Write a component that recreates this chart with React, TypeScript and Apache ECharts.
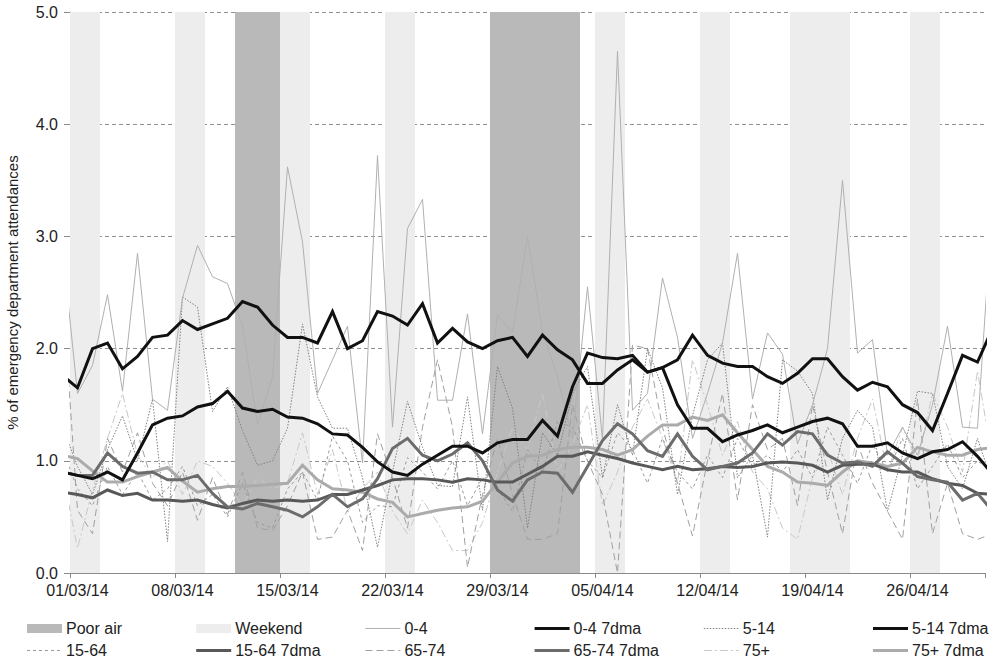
import React, { useEffect, useRef } from 'react';
import * as echarts from 'echarts';

// Day labels (01/03/14 .. 30/04/14); each day occupies one slot on the x axis
const pad = (n: number) => (n < 10 ? '0' + n : '' + n);
const dayLabels: string[] = [
  ...Array.from({ length: 31 }, (_, i) => `${pad(i + 1)}/03/14`),
  ...Array.from({ length: 30 }, (_, i) => `${pad(i + 1)}/04/14`),
];

// Series values: first entry = 28/02/14, last entry = 01/05/14 (both clipped by the plot edges)
const age0_4 = [2.9, 1.6, 1.85, 2.48, 1.62, 2.85, 1.55, 1.45, 2.45, 2.92, 2.64, 2.58, 2.2, 1.32, 1.75, 3.62, 2.95, 1.6, 1.9, 2.2, 0.98, 3.72, 1.3, 3.07, 3.33, 1.54, 1.54, 2.31, 1.24, 2.3, 2.14, 3.0, 2.15, 1.75, 1.2, 2.55, 1.19, 4.65, 1.45, 1.6, 2.63, 2.1, 1.2, 1.6, 2.05, 2.85, 1.55, 2.14, 1.95, 1.15, 1.5, 2.0, 3.5, 1.96, 2.08, 1.05, 1.3, 1.05, 1.5, 2.2, 1.3, 1.29, 3.3];
const age5_14 = [1.3, 0.95, 0.7, 1.1, 1.4, 1.0, 1.55, 0.28, 2.46, 2.37, 1.44, 1.66, 1.27, 0.96, 1.0, 1.29, 2.22, 1.57, 1.29, 1.29, 0.85, 0.23, 0.9, 1.53, 1.12, 0.78, 0.77, 1.57, 0.56, 1.84, 1.47, 0.4, 1.25, 1.05, 1.6, 1.84, 0.85, 1.5, 1.05, 2.0, 1.65, 0.7, 1.4, 1.9, 2.05, 0.85, 1.05, 0.32, 1.9, 1.8, 1.6, 0.65, 1.2, 1.45, 1.3, 0.55, 1.05, 1.62, 1.6, 0.95, 0.75, 1.2, 0.8];
const age15_64 = [1.1, 0.75, 0.6, 0.95, 0.7, 0.9, 0.65, 0.75, 0.95, 0.6, 0.7, 0.5, 0.8, 0.45, 0.4, 0.75, 0.9, 0.65, 1.22, 1.0, 0.45, 0.6, 0.59, 1.03, 0.9, 0.75, 1.0, 0.6, 0.85, 0.75, 0.55, 1.1, 0.9, 1.35, 1.3, 1.0, 0.85, 1.25, 1.1, 0.8, 1.2, 0.9, 0.75, 1.05, 0.85, 1.2, 0.95, 1.05, 0.9, 1.1, 0.85, 1.3, 1.05, 0.8, 1.15, 0.9, 1.2, 0.75, 0.95, 1.15, 0.85, 1.0, 0.9];
const age65_74 = [2.5, 0.56, 0.35, 1.2, 0.9, 1.25, 0.8, 0.6, 0.9, 0.47, 0.85, 0.52, 0.9, 0.4, 0.38, 0.6, 0.9, 0.3, 0.32, 0.56, 0.2, 1.24, 0.85, 0.4, 1.3, 1.9, 1.3, 0.05, 0.7, 1.2, 0.7, 0.3, 0.3, 0.35, 1.5, 1.0, 0.7, 0.0, 2.03, 2.0, 1.3, 0.8, 0.33, 1.0, 1.6, 0.65, 1.5, 1.1, 1.2, 0.6, 1.5, 0.9, 0.35, 1.15, 0.8, 0.55, 0.3, 1.55, 0.35, 0.8, 0.35, 0.3, 0.35];
const age75p = [0.9, 0.22, 0.74, 1.2, 1.6, 1.05, 0.85, 1.0, 0.7, 1.0, 0.95, 0.8, 0.6, 0.85, 0.75, 0.8, 1.25, 0.7, 1.1, 0.55, 0.75, 0.9, 0.55, 0.35, 0.65, 0.45, 0.2, 0.2, 0.45, 0.9, 1.3, 1.1, 1.6, 0.9, 1.15, 1.5, 0.6, 0.9, 1.3, 1.55, 1.2, 0.8, 1.9, 1.5, 1.05, 1.35, 0.9, 0.75, 0.4, 0.3, 0.85, 1.1, 0.7, 1.2, 1.55, 0.9, 1.3, 1.0, 1.6, 1.3, 0.9, 1.8, 1.0];
const dma0_4 = [1.76, 1.65, 2.0, 2.05, 1.82, 1.93, 2.1, 2.12, 2.25, 2.17, 2.22, 2.27, 2.42, 2.37, 2.21, 2.1, 2.1, 2.05, 2.33, 2.0, 2.07, 2.33, 2.29, 2.21, 2.4, 2.05, 2.18, 2.06, 2.0, 2.07, 2.1, 1.93, 2.12, 1.99, 1.9, 1.69, 1.69, 1.81, 1.9, 1.79, 1.83, 1.9, 2.12, 1.94, 1.87, 1.84, 1.84, 1.75, 1.69, 1.78, 1.91, 1.91, 1.75, 1.63, 1.7, 1.66, 1.5, 1.43, 1.27, 1.6, 1.94, 1.88, 2.18];
const dma5_14 = [0.9, 0.87, 0.84, 0.9, 0.83, 1.07, 1.32, 1.38, 1.4, 1.48, 1.51, 1.62, 1.47, 1.44, 1.46, 1.39, 1.38, 1.33, 1.24, 1.23, 1.12, 0.99, 0.9, 0.87, 0.97, 1.05, 1.13, 1.13, 1.07, 1.16, 1.19, 1.19, 1.36, 1.22, 1.66, 1.96, 1.92, 1.91, 1.94, 1.79, 1.83, 1.5, 1.29, 1.29, 1.17, 1.23, 1.27, 1.32, 1.25, 1.3, 1.35, 1.38, 1.33, 1.13, 1.13, 1.16, 1.07, 1.02, 1.08, 1.1, 1.17, 1.04, 0.88];
const dma15_64 = [0.72, 0.7, 0.67, 0.74, 0.69, 0.71, 0.65, 0.65, 0.64, 0.65, 0.61, 0.58, 0.62, 0.65, 0.64, 0.65, 0.64, 0.65, 0.7, 0.7, 0.74, 0.78, 0.83, 0.84, 0.84, 0.83, 0.81, 0.84, 0.83, 0.81, 0.81, 0.88, 0.95, 1.04, 1.04, 1.08, 1.05, 1.02, 0.98, 0.95, 0.92, 0.95, 0.92, 0.93, 0.95, 0.94, 0.95, 0.98, 0.99, 0.98, 0.96, 0.9, 0.96, 0.97, 0.97, 0.92, 0.9, 0.9, 0.84, 0.8, 0.78, 0.71, 0.7];
const dma65_74 = [0.9, 0.87, 0.87, 1.07, 0.95, 0.89, 0.9, 0.83, 0.83, 0.87, 0.71, 0.59, 0.57, 0.62, 0.59, 0.56, 0.5, 0.59, 0.7, 0.59, 0.66, 0.84, 1.11, 1.2, 1.05, 1.0, 1.06, 1.16, 1.0, 0.74, 0.64, 0.83, 0.9, 0.89, 0.72, 0.95, 1.18, 1.33, 1.24, 1.09, 1.04, 1.24, 1.04, 0.92, 0.95, 0.98, 1.07, 1.24, 1.14, 1.26, 1.24, 1.05, 0.98, 0.99, 0.95, 1.08, 0.98, 0.86, 0.83, 0.81, 0.65, 0.71, 0.55];
const dma75p = [1.05, 1.02, 0.91, 0.81, 0.81, 0.86, 0.9, 0.94, 0.82, 0.72, 0.75, 0.77, 0.77, 0.78, 0.79, 0.8, 0.96, 0.83, 0.75, 0.74, 0.72, 0.66, 0.63, 0.5, 0.53, 0.56, 0.58, 0.59, 0.64, 0.81, 0.98, 1.04, 1.05, 1.1, 1.12, 1.12, 1.1, 1.05, 1.1, 1.22, 1.32, 1.32, 1.39, 1.36, 1.41, 1.25, 1.1, 0.95, 0.9, 0.81, 0.8, 0.78, 0.9, 1.0, 0.98, 0.95, 0.98, 1.12, 1.08, 1.05, 1.05, 1.1, 1.12];

// Shaded periods, as [first day index, day index after last day]
const weekendRanges = [[0, 2], [7, 9], [14, 16], [21, 23], [28, 30], [35, 37], [42, 44], [48, 52], [56, 58]];
const poorAirRanges = [[11, 14], [28, 34]];

const yTicks = [0, 1, 2, 3, 4, 5];

const FONT = '"Liberation Sans", Arial, sans-serif';
const POOR = '#b9b9b9';
const WEEKEND = '#ededed';

type Def = { name: string; data: number[]; color: string; width: number; dash: number[] | null };
const thinDefs: Def[] = [
  { name: '75+', data: age75p, color: '#c8c8c8', width: 1, dash: [8, 3, 2, 3] },
  { name: '65-74', data: age65_74, color: '#a0a0a0', width: 1, dash: [7, 4] },
  { name: '15-64', data: age15_64, color: '#9a9a9a', width: 1, dash: [3, 3] },
  { name: '5-14', data: age5_14, color: '#808080', width: 1, dash: [1.5, 1.5] },
  { name: '0-4', data: age0_4, color: '#b0b0b0', width: 1, dash: null },
];
const thickDefs: Def[] = [
  { name: '75+ 7dma', data: dma75p, color: '#ababab', width: 3, dash: null },
  { name: '15-64 7dma', data: dma15_64, color: '#585858', width: 3, dash: null },
  { name: '65-74 7dma', data: dma65_74, color: '#6c6c6c', width: 3, dash: null },
  { name: '5-14 7dma', data: dma5_14, color: '#111111', width: 3, dash: null },
  { name: '0-4 7dma', data: dma0_4, color: '#111111', width: 3, dash: null },
];
const defByName: Record<string, Def> = {};
[...thinDefs, ...thickDefs].forEach((d) => (defByName[d.name] = d));

const legendOrder = [
  'Poor air', 'Weekend', '0-4', '0-4 7dma', '5-14', '5-14 7dma',
  '15-64', '15-64 7dma', '65-74', '65-74 7dma', '75+', '75+ 7dma',
];

function buildLegend() {
  const els: any[] = [];
  legendOrder.forEach((name, i) => {
    const col = i % 6;
    const row = Math.floor(i / 6);
    const x0 = 27 + col * 169.2;
    const y = row === 0 ? 628.5 : 650.5;
    if (name === 'Poor air' || name === 'Weekend') {
      els.push({
        type: 'rect',
        shape: { x: x0, y: y - 4.5, width: 35, height: 9 },
        style: { fill: name === 'Poor air' ? POOR : WEEKEND },
      });
    } else {
      const d = defByName[name];
      els.push({
        type: 'line',
        shape: { x1: x0, y1: y, x2: x0 + 35, y2: y },
        style: { stroke: d.color, lineWidth: d.width, lineDash: d.dash || undefined },
      });
    }
    els.push({
      type: 'text',
      x: x0 + 39,
      y,
      style: { text: name, fontSize: 16, fontFamily: FONT, fill: '#222', verticalAlign: 'middle', align: 'left' },
    });
  });
  return els;
}

function bandSeries(ranges: number[][], fill: string, z: number) {
  return {
    type: 'custom',
    xAxisIndex: 0,
    yAxisIndex: 0,
    silent: true,
    z,
    data: ranges,
    encode: { x: [0, 1] },
    renderItem: (_p: any, api: any) => {
      const a = api.coord([api.value(0), yTicks[yTicks.length - 1]]);
      const b = api.coord([api.value(1), yTicks[0]]);
      return {
        type: 'rect',
        shape: { x: a[0], y: a[1], width: b[0] - a[0], height: b[1] - a[1] },
        style: { fill },
      };
    },
  };
}

function lineSeries(d: Def, z: number) {
  return {
    type: 'line',
    name: d.name,
    xAxisIndex: 0,
    yAxisIndex: 0,
    z,
    symbol: 'none',
    clip: true,
    data: d.data.map((v, i) => [i - 0.5, v]),
    lineStyle: { color: d.color, width: d.width, type: d.dash || 'solid', cap: 'butt', join: 'miter' },
    itemStyle: { color: d.color },
  };
}

export default function App() {
  const ref = useRef<HTMLDivElement>(null);
  useEffect(() => {
    if (!ref.current) return;
    const chart = echarts.init(ref.current, undefined, { renderer: 'svg' });
    chart.setOption({
      animation: false,
      backgroundColor: '#ffffff',
      textStyle: { fontFamily: FONT },
      grid: { left: 70, right: 10, top: 12, bottom: 90, containLabel: false, outerBoundsMode: 'none' },
      xAxis: [
        { type: 'value', min: 0, max: dayLabels.length, show: false },
        {
          type: 'category',
          position: 'bottom',
          data: dayLabels,
          boundaryGap: true,
          axisLine: { show: true, lineStyle: { color: '#8a8a8a', width: 1 } },
          axisTick: { show: true, interval: 6, length: 5, lineStyle: { color: '#8a8a8a' } },
          axisLabel: { interval: 6, fontSize: 16, color: '#222', margin: 9, fontFamily: FONT },
          splitLine: { show: false },
        },
      ],
      yAxis: {
        type: 'value',
        min: yTicks[0],
        max: yTicks[yTicks.length - 1],
        interval: 1,
        name: '% of emergency department attendances',
        nameLocation: 'middle',
        nameGap: 50,
        nameTextStyle: { fontSize: 15, color: '#222', fontFamily: FONT },
        axisLine: { show: true, lineStyle: { color: '#8a8a8a', width: 1 } },
        axisTick: { show: true, length: 6, lineStyle: { color: '#8a8a8a' } },
        axisLabel: { formatter: (v: number) => v.toFixed(1), fontSize: 16, color: '#222', margin: 12, fontFamily: FONT },
        splitLine: { show: true, lineStyle: { color: '#8f8f8f', width: 1, type: [4, 3] } },
      },
      series: [
        bandSeries(weekendRanges, WEEKEND, 1),
        bandSeries(poorAirRanges, POOR, 1),
        ...thinDefs.map((d) => lineSeries(d, 2)),
        ...thickDefs.map((d) => lineSeries(d, 3)),
      ],
      graphic: buildLegend(),
    });
    return () => chart.dispose();
  }, []);
  return <div ref={ref} style={{ position: 'fixed', left: 0, top: 0, width: 995, height: 663 }} />;
}
